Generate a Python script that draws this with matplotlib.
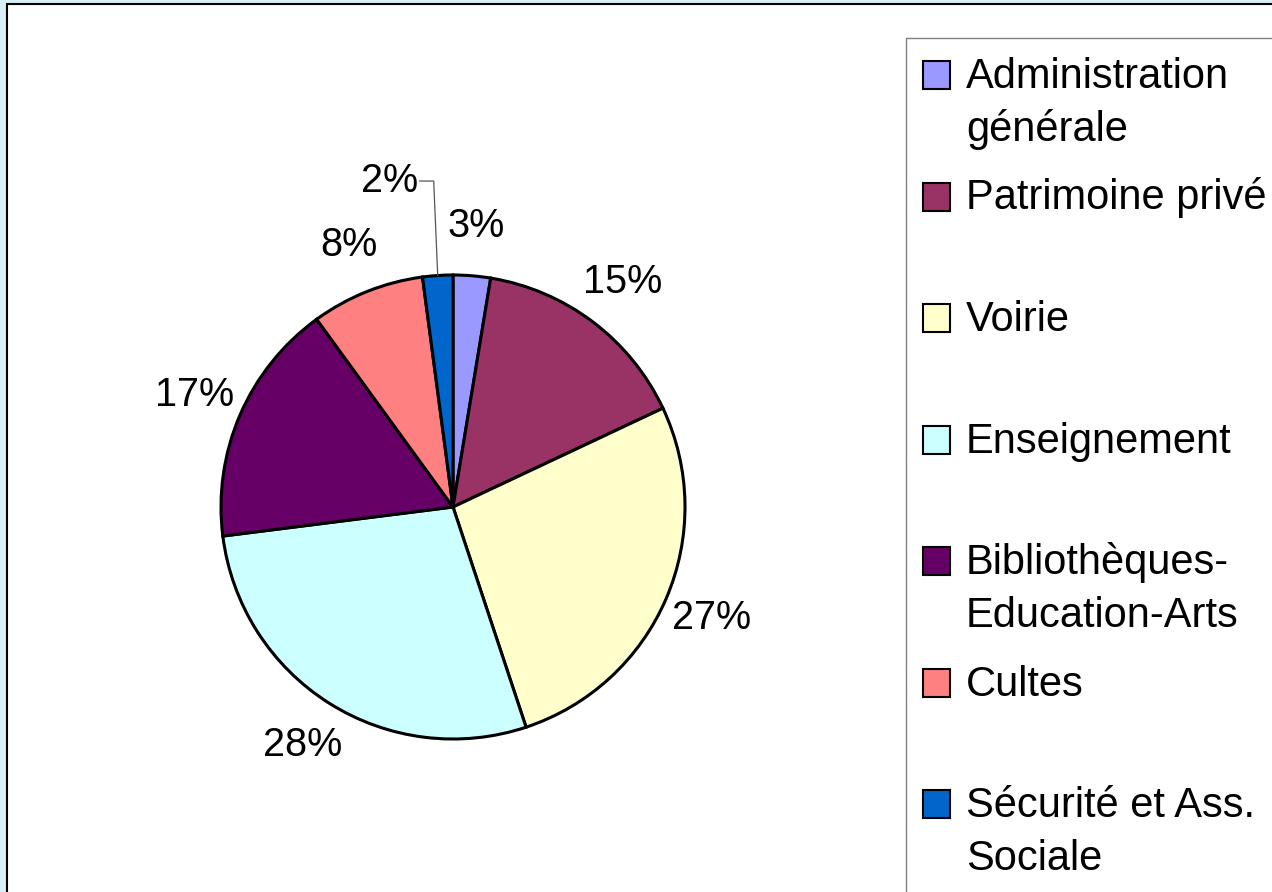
import matplotlib
matplotlib.use('Agg')
import matplotlib.pyplot as plt
from matplotlib.patches import Rectangle
import numpy as np

plt.rcParams['font.family'] = ['Liberation Sans', 'DejaVu Sans']

# ---- data ----
categories = ["Administration\ngénérale", "Patrimoine privé", "Voirie", "Enseignement",
              "Bibliothèques-\nEducation-Arts", "Cultes", "Sécurité et Ass.\nSociale"]
values = [2.6, 15.4, 26.9, 28.1, 17.0, 7.9, 2.1]
colors = ['#9999FF', '#993366', '#FFFFCC', '#CCFFFF', '#660066', '#FF8080', '#0066CC']

# ---- layout ----
W, H = 1272, 892
fig = plt.figure(figsize=(W / 100, H / 100), dpi=100)
fig.patch.set_facecolor('#d7eef5')
ax = fig.add_axes([0, 0, 1, 1])
ax.axis('off')

# white chart panel with black frame
ax.add_patch(Rectangle((7, -20), W + 40, H - 4 + 20, facecolor='white',
                       edgecolor='black', lw=1.5, zorder=0))

cx, cy, R = 453, H - 507, 232
wedges, texts, autotexts = ax.pie(
    values, colors=colors, startangle=90, counterclock=False,
    center=(cx, cy), radius=R, autopct='%.0f%%', pctdistance=1.215,
    wedgeprops=dict(edgecolor='black', linewidth=2.2),
    textprops=dict(fontsize=28.5, color='black'))

# small slices: label moved out with a leader line
for w, t, v in zip(wedges, autotexts, values):
    if v < 2.5:
        th = np.deg2rad((w.theta1 + w.theta2) / 2)
        ax_, ay_ = cx + R * np.cos(th), cy + R * np.sin(th)
        ey = cy + 1.405 * R
        ex = ax_ - 4
        ax.plot([ax_, ex, ex - 14], [ay_, ey, ey], color='#555555', lw=0.9,
                solid_joinstyle='miter')
        t.set_position((ex - 16, ey))
        t.set_ha('right')
        t.set_va('center')

# legend (drawn as a box with entries)
ax.add_patch(Rectangle((906, -20), 420, H - 38 + 20, facecolor='white',
                       edgecolor='#808080', lw=1.0, zorder=1))
top_base = H - 88
step = 121.5
line_gap = 53
for i, (lab, col) in enumerate(zip(categories, colors)):
    b = top_base - i * step
    ax.add_patch(Rectangle((923, b - 1), 27, 28, facecolor=col,
                           edgecolor='black', lw=1.5, zorder=3))
    for j, line in enumerate(lab.split('\n')):
        ax.text(966, b - j * line_gap, line, ha='left', va='baseline',
                fontsize=30, color='black', zorder=3)

ax.set_xlim(0, W)
ax.set_ylim(0, H)
ax.set_aspect('equal')

fig.savefig('out.png', dpi=100, facecolor=fig.get_facecolor())
